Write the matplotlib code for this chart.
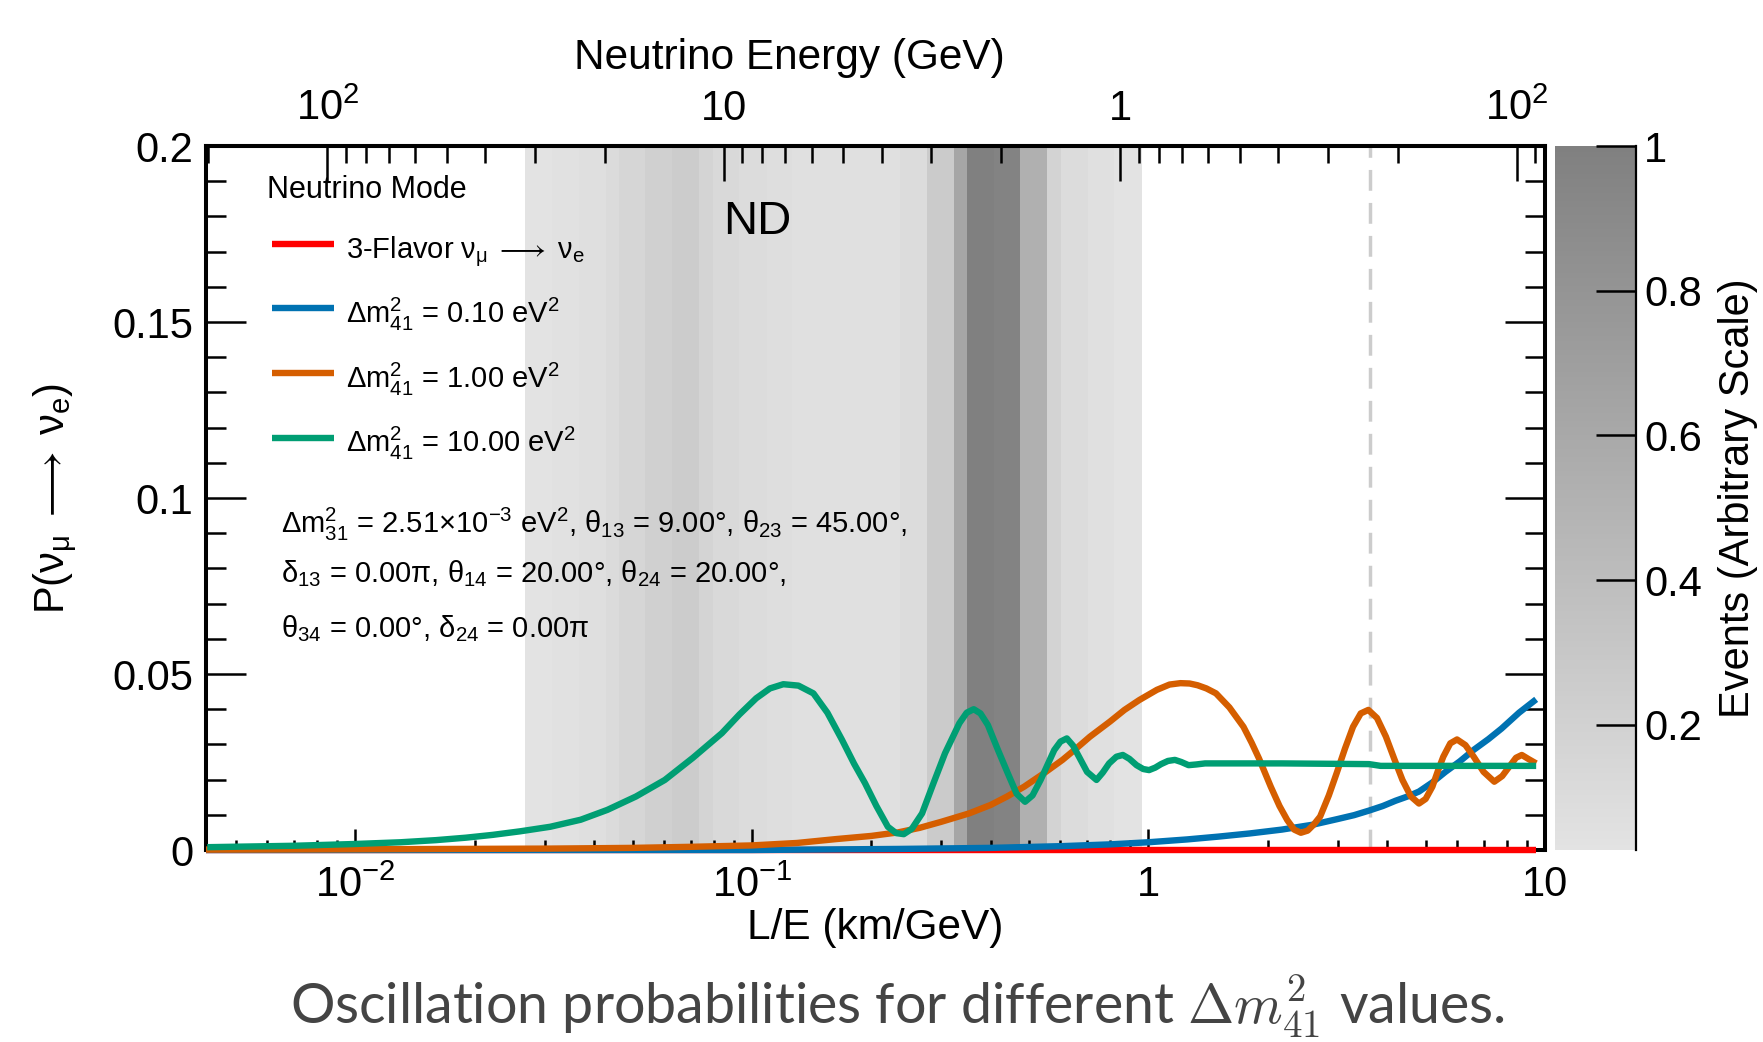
import numpy as np
import matplotlib as mpl
mpl.use("Agg")
import matplotlib.pyplot as plt
from matplotlib.colors import LinearSegmentedColormap, Normalize
from matplotlib.ticker import LogLocator, FixedLocator, FixedFormatter, MultipleLocator, NullFormatter

plt.rcParams["font.family"] = ["Liberation Sans", "DejaVu Sans"]
plt.rcParams["mathtext.fontset"] = "custom"
plt.rcParams["mathtext.rm"] = "Liberation Sans"
plt.rcParams["mathtext.it"] = "Liberation Sans:italic"
plt.rcParams["mathtext.bf"] = "Liberation Sans:bold"
plt.rcParams["mathtext.sf"] = "Liberation Sans"
plt.rcParams["mathtext.fallback"] = "stixsans"

# baseline used for the energy axis on top (E = L0 / (L/E))
L0 = 0.85

# event histogram (ND), bin edges in L/E and relative counts
band_edges = [0.0268, 0.0314, 0.0366, 0.0429, 0.0461, 0.0539, 0.0629, 0.0737,
              0.0796, 0.0929, 0.109, 0.1265, 0.2196, 0.2359, 0.2764, 0.3227,
              0.3491, 0.4074, 0.4756, 0.5549, 0.6017, 0.7022, 0.8197, 0.9659]
band_events = [0.03, 0.05, 0.07, 0.11, 0.155, 0.22, 0.25, 0.175, 0.125, 0.095,
               0.075, 0.055, 0.065, 0.095, 0.27, 0.63, 1.0, 0.97, 0.53, 0.19,
               0.095, 0.055, 0.03]
events_min = 0.027
marker_le = 3.62

# oscillation curves
le_red = [0.0042, 9.5]
p_red = [0.0, 0.0]

le_blue = [0.0042, 0.1, 0.234, 0.4, 0.607, 0.8, 1.0, 1.25, 1.5, 1.8, 2.17,
           2.6, 3.0, 3.3, 3.6, 3.9, 4.2, 4.5, 4.81, 5.2, 5.61, 6.1, 6.62,
           7.2, 7.77, 8.6, 9.5]
p_blue = [0.0, 0.0, 0.0003, 0.0006, 0.0011, 0.0016, 0.0022, 0.003, 0.0038,
          0.0047, 0.0058, 0.0072, 0.0088, 0.0099, 0.0112, 0.0125, 0.014,
          0.0152, 0.0166, 0.0192, 0.0222, 0.0252, 0.0285, 0.0315, 0.0345,
          0.039, 0.0428]

le_orange = [0.0042, 0.01, 0.031, 0.05, 0.07, 0.1, 0.13, 0.163, 0.2, 0.2336,
             0.265, 0.3, 0.353, 0.4, 0.44, 0.486, 0.545, 0.607, 0.66, 0.712,
             0.8, 0.87, 0.948, 1.05, 1.13, 1.204, 1.27, 1.33, 1.4, 1.48, 1.6,
             1.736, 1.82, 1.9, 2.034, 2.14, 2.239, 2.33, 2.423, 2.52, 2.61,
             2.71, 2.85, 2.982, 3.13, 3.28, 3.43, 3.585, 3.77, 3.97, 4.17,
             4.37, 4.59, 4.81, 5.0, 5.2, 5.37, 5.54, 5.77, 6.0, 6.3, 6.61,
             7.0, 7.45, 7.8, 8.13, 8.45, 8.74, 9.1, 9.5]
p_orange = [0.0001, 0.0002, 0.0004, 0.0006, 0.0009, 0.0013, 0.002, 0.0031,
            0.004, 0.005, 0.0063, 0.008, 0.0104, 0.0128, 0.0152, 0.018,
            0.0218, 0.0256, 0.029, 0.0322, 0.0365, 0.0398, 0.0426, 0.0455,
            0.047, 0.0474, 0.0473, 0.0468, 0.0459, 0.0445, 0.0405, 0.035,
            0.0305, 0.026, 0.018, 0.0125, 0.0085, 0.0058, 0.0049, 0.0055,
            0.0072, 0.0095, 0.0155, 0.0218, 0.0288, 0.035, 0.0388, 0.0398,
            0.0375, 0.0322, 0.0258, 0.0199, 0.0152, 0.0132, 0.0145, 0.018,
            0.0225, 0.0265, 0.0303, 0.0314, 0.0298, 0.0265, 0.0222, 0.0194,
            0.021, 0.0237, 0.0262, 0.027, 0.0258, 0.0246]

le_green = [0.00423, 0.007, 0.00993, 0.013, 0.01595, 0.019, 0.0222, 0.026,
            0.031, 0.037, 0.0432, 0.051, 0.0603, 0.071, 0.084, 0.093, 0.1025,
            0.111, 0.12, 0.131, 0.1429, 0.155, 0.1687, 0.181, 0.1928, 0.206,
            0.2202, 0.231, 0.2415, 0.253, 0.2686, 0.287, 0.3069, 0.3335,
            0.348, 0.3625, 0.377, 0.3936, 0.417, 0.4418, 0.465, 0.4884, 0.51,
            0.5346, 0.5787, 0.6, 0.6225, 0.645, 0.668, 0.7, 0.7396, 0.767,
            0.7957, 0.83, 0.8617, 0.895, 0.933, 0.97, 1.0035, 1.04, 1.076,
            1.12, 1.166, 1.21, 1.262, 1.32, 1.389, 2.17, 3.6, 3.85, 9.5]
p_green = [0.0008, 0.0012, 0.0017, 0.0022, 0.0028, 0.0035, 0.0043, 0.0053,
           0.0066, 0.0086, 0.0114, 0.0152, 0.0199, 0.0262, 0.0332, 0.0385,
           0.0431, 0.0459, 0.0471, 0.0467, 0.0445, 0.039, 0.0313, 0.0245,
           0.019, 0.0125, 0.0066, 0.0048, 0.0045, 0.006, 0.0104, 0.019,
           0.0275, 0.036, 0.039, 0.04, 0.0388, 0.0355, 0.0285, 0.0218, 0.016,
           0.0137, 0.0155, 0.0199, 0.0284, 0.0308, 0.0317, 0.0297, 0.0265,
           0.0222, 0.0199, 0.022, 0.0246, 0.0265, 0.027, 0.0259, 0.0241,
           0.023, 0.0227, 0.0234, 0.0244, 0.0253, 0.0256, 0.025, 0.0241,
           0.0243, 0.0246, 0.0246, 0.0244, 0.0239, 0.0239]

ARROW = r"$\;\longrightarrow\;$"
series = [
    (le_red, p_red, "#ff0000", "3-Flavor ν$_{\\mathrm{μ}}$" + ARROW + "ν$_{\\mathrm{e}}$"),
    (le_blue, p_blue, "#0072b2", "Δm$^{2}_{41}$ = 0.10 eV$^{2}$"),
    (le_orange, p_orange, "#d55e00", "Δm$^{2}_{41}$ = 1.00 eV$^{2}$"),
    (le_green, p_green, "#009e73", "Δm$^{2}_{41}$ = 10.00 eV$^{2}$"),
]

param_lines = [
    "Δm$^{2}_{31}$ = 2.51×10$^{-3}$ eV$^{2}$, θ$_{13}$ = 9.00°, θ$_{23}$ = 45.00°,",
    "δ$_{13}$ = 0.00π, θ$_{14}$ = 20.00°, θ$_{24}$ = 20.00°,",
    "θ$_{34}$ = 0.00°, δ$_{24}$ = 0.00π",
]

W, H = 1763, 1042
fig = plt.figure(figsize=(W / 100, H / 100), dpi=100)
ax = fig.add_axes([206 / W, 1 - 850 / H, (1545 - 206) / W, (850 - 146) / H])
cax = fig.add_axes([1555 / W, 1 - 850 / H, (1636 - 1555) / W, (850 - 146) / H])

cmap = LinearSegmentedColormap.from_list("evgrey", ["#e3e3e3", "#808080"])
norm = Normalize(vmin=events_min, vmax=1.0)
mesh = ax.pcolormesh(band_edges, [0, 0.2], np.array([band_events]), cmap=cmap,
                     norm=norm, shading="flat", antialiased=False, zorder=0)

ax.axvline(marker_le, color="#cccccc", lw=2.5, ls=(0, (6, 3.5)), zorder=1)

for le, p, col, lab in series:
    ax.plot(le, p, color=col, lw=4.6, zorder=3, clip_on=False,
            solid_capstyle="butt", solid_joinstyle="round")

ax.set_xscale("log")
ax.set_xlim(0.0042, 10)
ax.set_ylim(0, 0.2)

for s in ax.spines.values():
    s.set_linewidth(2.9)

ax.xaxis.set_major_locator(FixedLocator([0.01, 0.1, 1, 10]))
ax.xaxis.set_major_formatter(FixedFormatter([r"$10^{-2}$", r"$10^{-1}$", "1", "10"]))
ax.xaxis.set_minor_locator(LogLocator(base=10, subs=np.arange(2, 10)))
ax.xaxis.set_minor_formatter(NullFormatter())
ax.tick_params(axis="x", which="major", direction="in", length=15, width=1.8,
               labelsize=30, pad=11, top=False)
ax.tick_params(axis="x", which="minor", direction="in", length=7.5, width=1.8, top=False)

ax.set_yticks([0, 0.05, 0.1, 0.15, 0.2])
ax.set_yticklabels(["0", "0.05", "0.1", "0.15", "0.2"])
ax.yaxis.set_minor_locator(MultipleLocator(0.01))
ax.tick_params(axis="y", which="major", direction="in", length=29, width=1.8,
               labelsize=30, pad=9, left=True, right=True)
ax.tick_params(axis="y", which="minor", direction="in", length=14.4, width=1.8,
               left=True, right=True)

ax.set_xlabel("L/E (km/GeV)", fontsize=30.5, labelpad=2)

# energy axis on top
top = ax.secondary_xaxis("top", functions=(lambda x: L0 / x, lambda e: L0 / e))
top.xaxis.set_major_locator(FixedLocator([100, 10, 1, 0.1]))
top.xaxis.set_major_formatter(FixedFormatter([r"$10^{2}$", "10", "1", r"$10^{2}$"]))
top.xaxis.set_minor_locator(LogLocator(base=10, subs=np.arange(2, 10)))
top.xaxis.set_minor_formatter(NullFormatter())
top.tick_params(axis="x", which="major", direction="in", length=25, width=1.8,
                labelsize=30, pad=12)
top.tick_params(axis="x", which="minor", direction="in", length=12, width=1.8)
top.spines["top"].set_linewidth(2.9)
fig.text(789 / W, 1 - 58 / H, "Neutrino Energy (GeV)", fontsize=30.5,
         ha="center", va="center")

fig.text(56 / W, 1 - 498 / H, "P(ν$_{\\mathrm{μ}}$" + ARROW + "ν$_{\\mathrm{e}}$)",
         fontsize=30, rotation=90, ha="center", va="center")

# legend drawn by hand to match the layout
ax.text(0.0452, 0.9375, "Neutrino Mode", transform=ax.transAxes, fontsize=22,
        ha="left", va="center")
row_y = [0.8608, 0.7695, 0.6771, 0.5857]
for (le, p, col, lab), yy in zip(series, row_y):
    ax.plot([0.0493, 0.0956], [yy, yy], transform=ax.transAxes, color=col,
            lw=4.6, solid_capstyle="butt", zorder=4)
    ax.text(0.1046, yy - 0.0205, lab, transform=ax.transAxes, fontsize=21,
            ha="left", va="baseline")

param_y = [0.450, 0.381, 0.302]
for txt, yy in zip(param_lines, param_y):
    ax.text(0.056, yy, txt, transform=ax.transAxes, fontsize=21,
            ha="left", va="baseline")

ax.text((723 - 206) / (1545 - 206), (850 - 222) / 704, "ND",
        transform=ax.transAxes, fontsize=34, ha="left", va="center")

cb = fig.colorbar(mesh, cax=cax)
cb.outline.set_visible(False)
cb.set_ticks([0.2, 0.4, 0.6, 0.8, 1.0])
cb.set_ticklabels(["0.2", "0.4", "0.6", "0.8", "1"])
cax.tick_params(direction="in", length=29, width=1.8, labelsize=30, pad=6)
cax.plot([1, 1], [0, 1], transform=cax.transAxes, color="black", lw=1.6, clip_on=False)
fig.text(1738 / W, 1 - 498 / H, "Events (Arbitrary Scale)", fontsize=30,
         rotation=90, ha="center", va="center")

fig.text(897 / W, 1 - 1024 / H,
         r"Oscillation probabilities for different $\Delta m^2_{41}$ values.",
         fontsize=40, family="Lato", fontweight="normal", math_fontfamily="cm",
         color="#444444", ha="center", va="baseline")

fig.savefig("out.png", dpi=100)
